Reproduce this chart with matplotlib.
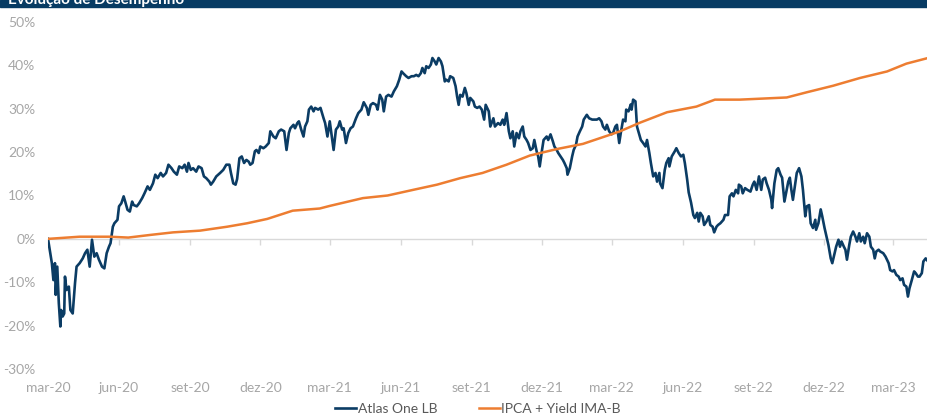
import numpy as np
import matplotlib
matplotlib.use('Agg')
from matplotlib import pyplot as plt
from matplotlib.patches import Rectangle

plt.rcParams['font.family'] = ['Lato', 'DejaVu Sans']

# data: days since 2020-03-01 and cumulative return (%)
start = np.datetime64('2020-03-01')

atlas_day = [
    0, 5, 7, 9, 10, 12, 14, 16, 17, 19, 21, 22, 24, 27, 29, 32, 35, 37, 41, 45,
    48, 51, 54, 57, 60, 63, 66, 70, 73, 76, 79, 81, 84, 86, 90, 92, 95, 98, 100, 103,
    106, 109, 111, 115, 118, 122, 125, 129, 132, 136, 139, 142, 146, 149, 153, 156, 160, 163, 167, 170,
    174, 177, 180, 182, 185, 188, 192, 195, 199, 202, 205, 209, 211, 214, 218, 223, 227, 231, 235, 237,
    240, 243, 245, 248, 251, 254, 257, 260, 262, 265, 268, 270, 273, 275, 279, 282, 286, 288, 292, 295,
    299, 302, 306, 309, 312, 314, 318, 320, 323, 325, 328, 331, 333, 336, 338, 341, 344, 346, 350, 353,
    357, 359, 362, 365, 368, 370, 373, 376, 378, 381, 383, 386, 389, 392, 395, 399, 402, 406, 409, 413,
    415, 418, 421, 425, 427, 430, 433, 435, 438, 441, 445, 448, 452, 455, 458, 460, 464, 467, 471, 474,
    477, 480, 483, 485, 488, 490, 493, 496, 498, 501, 503, 506, 509, 511, 514, 516, 519, 521, 525, 528,
    530, 532, 534, 537, 540, 542, 545, 547, 551, 553, 556, 559, 562, 565, 567, 571, 573, 577, 579, 583,
    586, 589, 591, 594, 597, 599, 602, 604, 607, 610, 612, 615, 617, 620, 622, 625, 628, 630, 633, 635,
    637, 640, 642, 646, 648, 651, 654, 656, 659, 661, 664, 667, 669, 672, 673, 676, 679, 681, 684, 686,
    689, 692, 694, 698, 701, 705, 708, 711, 714, 717, 719, 722, 724, 727, 730, 732, 735, 737, 740, 742,
    745, 748, 749, 752, 755, 756, 758, 761, 763, 766, 768, 771, 774, 776, 779, 781, 784, 787, 789, 792,
    793, 796, 799, 801, 804, 805, 808, 812, 814, 817, 820, 823, 825, 828, 830, 833, 836, 838, 841, 843,
    845, 848, 850, 853, 856, 858, 861, 863, 866, 868, 871, 875, 877, 881, 883, 886, 888, 891, 894, 895,
    898, 900, 903, 906, 910, 913, 915, 918, 921, 924, 926, 929, 931, 934, 937, 938, 941, 944, 946, 949,
    951, 954, 957, 959, 961, 963, 965, 968, 970, 973, 976, 978, 981, 983, 986, 988, 991, 994, 995, 998,
    1001, 1003, 1006, 1008, 1011, 1014, 1016, 1019, 1021, 1024, 1026, 1028, 1031, 1033, 1035, 1038, 1040, 1043, 1046, 1048,
    1051, 1053, 1056, 1058, 1061, 1064, 1066, 1069, 1071, 1073, 1076, 1078, 1082, 1085, 1089, 1091, 1094, 1096, 1099, 1102,
    1104, 1107, 1109, 1112, 1114, 1116, 1119, 1122, 1124, 1127, 1129, 1132, 1134, 1137, 1140,
]
atlas_val = [
    0.0, -5.6, -9.5, -5.6, -12.9, -6.4, -14.8, -20.2, -16.4, -17.9, -17.2, -8.7, -11.8, -11.0, -16.4, -17.2, -10.2, -6.4, -5.6, -4.5,
    -3.3, -2.5, -6.4, -0.2, -4.1, -3.3, -4.8, -6.4, -6.8, -3.3, -1.8, -1.0, 2.8, 3.6, 4.4, 7.5, 8.2, 9.8, 8.6, 6.7,
    6.3, 8.6, 7.8, 7.5, 8.2, 9.4, 10.5, 12.1, 11.3, 12.8, 14.8, 14.0, 15.2, 14.4, 15.2, 17.1, 16.3, 15.5, 14.8, 16.7,
    16.3, 17.1, 15.5, 17.5, 15.9, 16.3, 15.5, 16.7, 16.3, 14.4, 14.0, 13.2, 12.5, 13.2, 14.4, 15.2, 15.9, 17.1, 17.1, 15.2,
    12.8, 12.5, 13.8, 18.6, 19.0, 17.5, 18.2, 17.8, 17.1, 17.5, 20.2, 20.5, 19.8, 21.3, 20.9, 21.3, 22.1, 24.8, 23.6, 23.2,
    24.8, 25.2, 24.8, 20.5, 24.4, 25.5, 26.3, 25.5, 26.7, 27.1, 25.2, 23.6, 25.9, 27.1, 29.8, 30.5, 29.4, 30.2, 29.8, 30.2,
    27.8, 26.7, 23.6, 27.1, 23.2, 20.5, 25.2, 25.9, 27.1, 25.2, 25.5, 22.1, 24.4, 25.5, 25.9, 27.8, 29.0, 29.8, 31.5, 30.2,
    28.6, 30.9, 31.3, 30.9, 29.8, 33.2, 32.1, 29.4, 32.8, 33.2, 32.8, 34.0, 35.2, 36.7, 38.6, 38.2, 37.5, 37.1, 37.5, 37.5,
    37.8, 37.5, 38.2, 39.4, 38.2, 39.8, 39.4, 40.2, 41.7, 40.9, 40.2, 41.7, 40.9, 39.8, 36.3, 36.7, 36.3, 37.5, 37.1, 35.2,
    32.8, 30.9, 33.2, 32.8, 34.8, 33.6, 30.9, 32.5, 31.7, 30.5, 30.2, 30.5, 29.8, 27.5, 30.9, 29.4, 25.9, 27.8, 25.9, 26.7,
    26.3, 27.5, 26.3, 29.0, 24.8, 23.2, 24.8, 21.3, 24.4, 23.2, 24.8, 25.9, 23.6, 22.8, 22.1, 20.5, 20.9, 22.8, 20.2, 19.0,
    16.7, 20.5, 22.8, 23.6, 22.8, 24.1, 22.5, 21.3, 20.5, 19.8, 19.0, 18.2, 17.5, 16.3, 14.8, 16.3, 19.0, 20.5, 21.7, 23.6,
    24.8, 25.9, 27.5, 28.6, 27.8, 27.5, 27.5, 27.5, 27.8, 27.1, 25.9, 25.2, 26.3, 24.8, 24.1, 24.4, 25.9, 26.3, 22.1, 24.4,
    27.5, 27.1, 29.8, 29.4, 31.0, 29.8, 32.1, 31.7, 25.9, 24.0, 22.8, 22.1, 21.3, 22.8, 19.8, 17.5, 14.4, 15.2, 13.2, 15.2,
    12.8, 11.7, 15.9, 17.5, 18.6, 16.7, 19.0, 20.2, 20.9, 19.8, 19.0, 19.4, 17.5, 13.7, 10.7, 8.4, 5.5, 4.8, 6.0, 4.0,
    6.0, 5.2, 3.2, 4.0, 5.2, 3.2, 2.8, 1.5, 2.8, 3.2, 3.6, 4.4, 5.5, 5.5, 9.8, 10.5, 9.8, 11.3, 10.5, 12.5,
    12.1, 10.5, 11.7, 11.3, 10.9, 12.5, 13.2, 11.3, 14.4, 11.3, 13.7, 14.1, 12.8, 11.3, 9.0, 7.1, 12.8, 15.9, 16.3, 14.8,
    14.1, 8.6, 11.3, 13.2, 14.1, 11.3, 9.0, 12.8, 15.2, 16.3, 14.4, 11.3, 5.2, 7.5, 7.8, 3.6, 2.5, 4.4, 2.1, 3.6,
    6.8, 5.2, 2.5, 0.9, -1.4, -4.5, -5.6, -3.3, -1.8, -0.2, -1.8, -0.6, -1.8, -2.5, -4.8, -1.4, 0.5, 1.7, 0.5, -0.6,
    1.3, -0.6, 0.5, -1.0, 1.3, 0.5, -1.8, -2.5, -4.5, -2.9, -2.5, -2.9, -3.3, -4.1, -5.6, -7.2, -7.5, -7.2, -8.3, -8.7,
    -9.5, -9.1, -10.6, -11.0, -13.3, -11.4, -9.5, -7.5, -7.9, -8.7, -8.7, -7.9, -5.2, -4.5, -5.2,
]

ipca_day = [0, 41, 80, 104, 132, 162, 197, 232, 258, 284, 317, 352, 365, 408, 440, 473, 504, 534,
            563, 594, 624, 659, 693, 728, 741, 754, 767, 802, 840, 864, 896, 957, 983, 1017, 1052,
            1087, 1112, 1140]
ipca_val = [0.0, 0.5, 0.5, 0.3, 0.9, 1.5, 1.9, 2.8, 3.6, 4.6, 6.5, 7.0, 7.6, 9.4, 10.0, 11.3, 12.5, 14.0,
            15.2, 17.1, 19.2, 20.7, 21.9, 24.0, 24.8, 25.8, 26.8, 29.2, 30.5, 32.1, 32.1, 32.6, 33.8, 35.3, 37.1,
            38.6, 40.4, 41.7]

tick_dates = ['2020-03-01', '2020-06-01', '2020-09-01', '2020-12-01', '2021-03-01', '2021-06-01',
              '2021-09-01', '2021-12-01', '2022-03-01', '2022-06-01', '2022-09-01', '2022-12-01',
              '2023-03-01']
tick_labels = ['mar-20', 'jun-20', 'set-20', 'dez-20', 'mar-21', 'jun-21', 'set-21', 'dez-21',
               'mar-22', 'jun-22', 'set-22', 'dez-22', 'mar-23']
y_ticks = [-30, -20, -10, 0, 10, 20, 30, 40, 50]

navy = '#0b3c64'
orange = '#ed7d31'
grey_txt = '#a6a6a6'
axis_grey = '#d9d9d9'

atlas_x = start + np.array(atlas_day).astype('timedelta64[D]')
ipca_x = start + np.array(ipca_day).astype('timedelta64[D]')
ticks = np.array(tick_dates, dtype='datetime64[D]')

fig = plt.figure(figsize=(9.28, 4.19), dpi=100)
ax = fig.add_axes([48 / 928, 50 / 419, 880 / 928, 347 / 419])

ax.plot(atlas_x, atlas_val, color=navy, lw=1.9, label='Atlas One LB', zorder=3)
ax.plot(ipca_x, ipca_val, color=orange, lw=1.8, label='IPCA + Yield IMA-B', zorder=3)

ax.set_xlim(start, atlas_x[-1])
ax.set_ylim(-30, 50)

for s in ['top', 'right', 'left']:
    ax.spines[s].set_visible(False)
ax.spines['bottom'].set_position(('data', 0))
ax.spines['bottom'].set_color(axis_grey)
ax.spines['bottom'].set_linewidth(1.0)

ax.set_xticks(ticks)
ax.tick_params(axis='x', direction='out', length=4, width=1, color=axis_grey, labelbottom=False)

ax.set_yticks(y_ticks)
ax.set_yticklabels([f'{v}%' for v in y_ticks])
ax.tick_params(axis='y', length=0, pad=9, labelsize=10, labelcolor=grey_txt)

sec = ax.secondary_xaxis('bottom')
sec.set_xticks(ticks, labels=tick_labels)
sec.tick_params(length=0, pad=9, labelsize=10, labelcolor=grey_txt)
sec.spines['bottom'].set_visible(False)

# header bar (title mostly cropped off the top, as in the source)
fig.patches.append(Rectangle((0, 1 - 7 / 419), 1, 7 / 419, transform=fig.transFigure,
                             color='#073b63', zorder=0))
fig.text(8 / 928, 1 - 4 / 419, 'Evolução de Desempenho', color='white', fontsize=11,
         fontweight='bold', va='baseline', ha='left')

fig.legend(loc='center', bbox_to_anchor=(478 / 928, 10 / 419), ncol=2, frameon=False,
           fontsize=10, handlelength=1.5, handletextpad=0.1, columnspacing=3.0,
           labelcolor='#595959')

fig.savefig('out.png', dpi=100)
